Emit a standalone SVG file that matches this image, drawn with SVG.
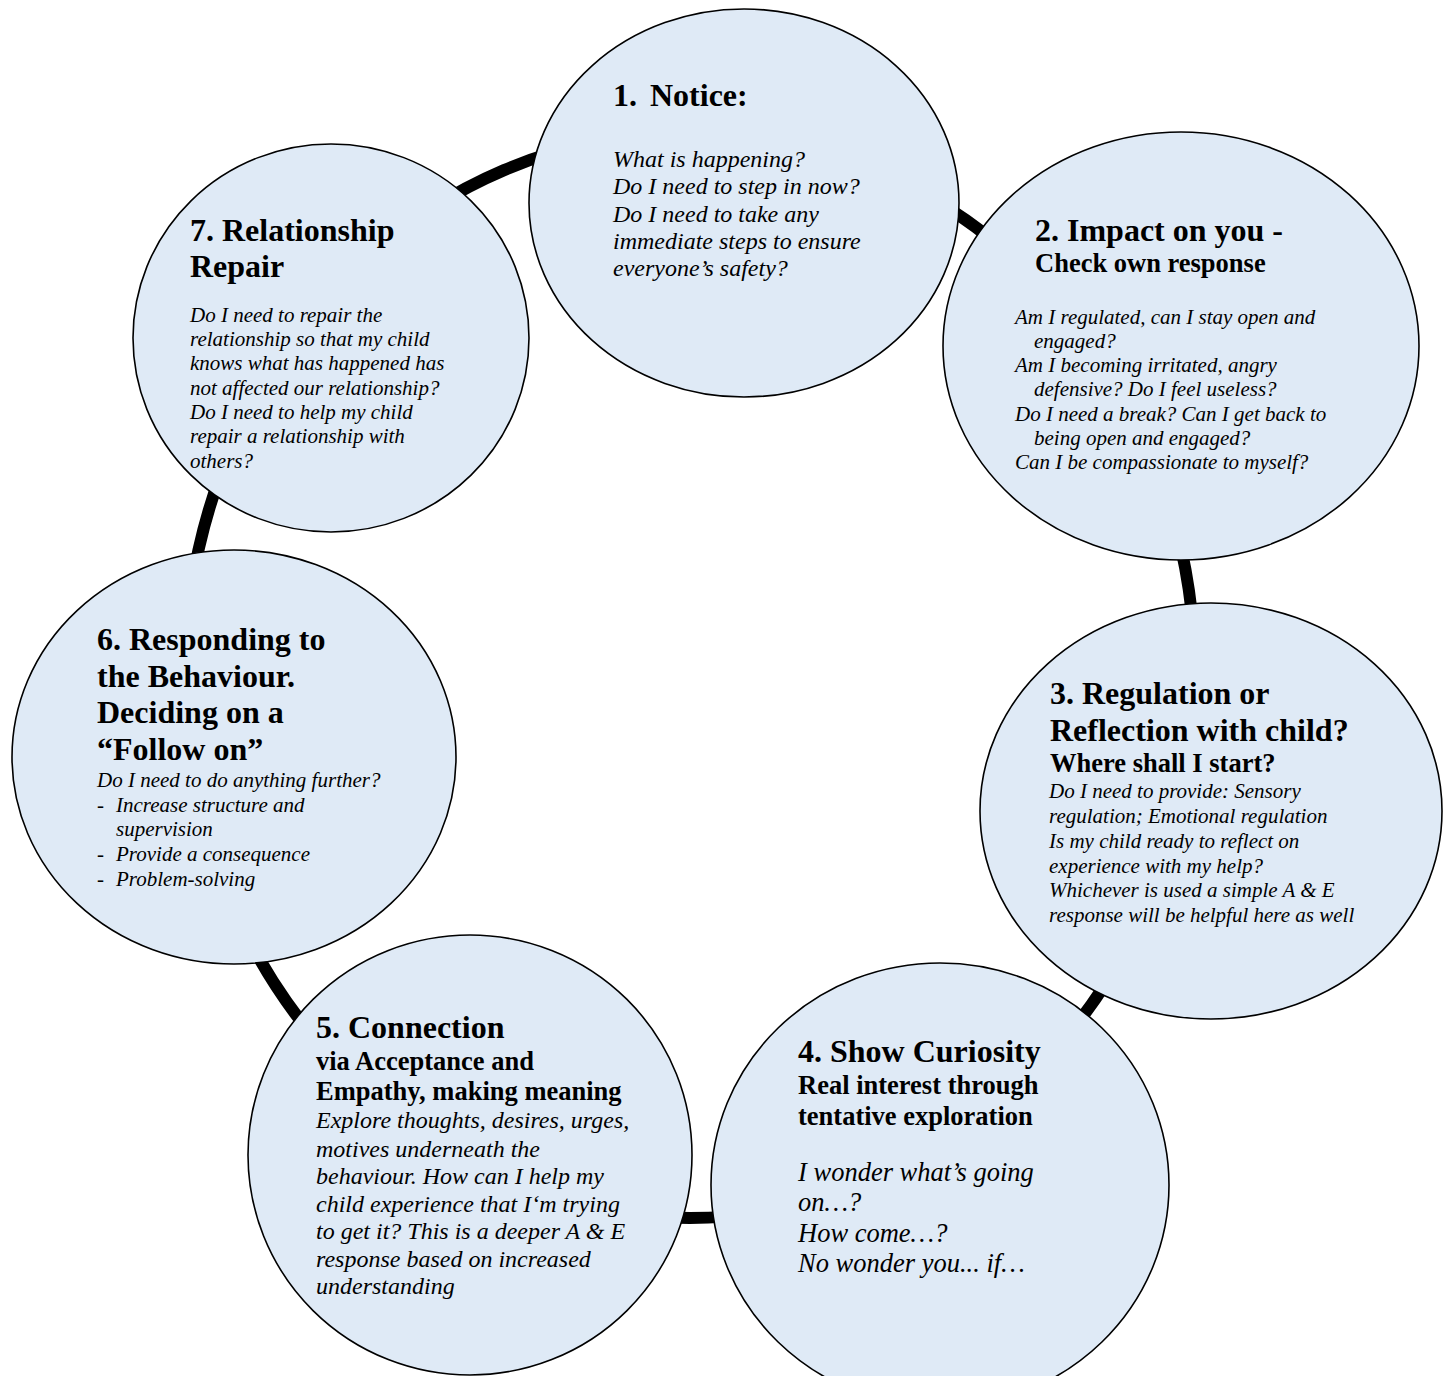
<svg xmlns="http://www.w3.org/2000/svg" width="1448" height="1376" viewBox="0 0 1448 1376">
<style>
.bg{fill:#ffffff}
.ring{fill:none;stroke:#000;stroke-width:12}
.n{fill:#dfeaf6;stroke:#000;stroke-width:1.6}
text{font-family:"Liberation Serif","Times New Roman",serif;fill:#000}
.h{font-weight:bold;font-size:32px}
.s{font-weight:bold;font-size:26.5px}
.b{font-style:italic;font-size:21px}
.b24{font-style:italic;font-size:24px}
.b26{font-style:italic;font-size:26.5px}
</style>
<rect class="bg" x="0" y="0" width="1448" height="1376"/>
<g id="connectors">
<ellipse class="ring" cx="690" cy="675" rx="505" ry="543"/>
</g>
<g id="node1">
<ellipse class="n" cx="744" cy="203" rx="215" ry="194"/>
<text class="h" y="106"><tspan x="613">1.</tspan><tspan x="650">Notice:</tspan></text>
<text class="b24"><tspan x="613" y="167">What is happening?</tspan><tspan x="613" y="194">Do I need to step in now?</tspan><tspan x="613" y="222">Do I need to take any</tspan><tspan x="613" y="249">immediate steps to ensure</tspan><tspan x="613" y="276">everyone’s safety?</tspan></text>
</g>
<g id="node2">
<ellipse class="n" cx="1181" cy="346" rx="238" ry="214"/>
<text class="h" x="1035" y="241">2. Impact on you -</text>
<text class="s" x="1035" y="272">Check own response</text>
<text class="b"><tspan x="1015" y="324">Am I regulated, can I stay open and</tspan><tspan x="1034" y="348">engaged?</tspan><tspan x="1015" y="372">Am I becoming irritated, angry</tspan><tspan x="1034" y="396">defensive? Do I feel useless?</tspan><tspan x="1015" y="421">Do I need a break? Can I get back to</tspan><tspan x="1034" y="445">being open and engaged?</tspan><tspan x="1015" y="469">Can I be compassionate to myself?</tspan></text>
</g>
<g id="node3">
<ellipse class="n" cx="1211" cy="811" rx="231" ry="208"/>
<text class="h"><tspan x="1050" y="704">3. Regulation or</tspan><tspan x="1050" y="741">Reflection with child?</tspan></text>
<text class="s" x="1050" y="772">Where shall I start?</text>
<text class="b"><tspan x="1049" y="798">Do I need to provide: Sensory</tspan><tspan x="1049" y="823">regulation; Emotional regulation</tspan><tspan x="1049" y="848">Is my child ready to reflect on</tspan><tspan x="1049" y="873">experience with my help?</tspan><tspan x="1049" y="897">Whichever is used a simple A &amp; E</tspan><tspan x="1049" y="922">response will be helpful here as well</tspan></text>
</g>
<g id="node4">
<ellipse class="n" cx="940" cy="1185" rx="229" ry="222"/>
<text class="h" x="798" y="1062">4. Show Curiosity</text>
<text class="s"><tspan x="798" y="1094">Real interest through</tspan><tspan x="798" y="1125">tentative exploration</tspan></text>
<text class="b26"><tspan x="798" y="1181">I wonder what’s going</tspan><tspan x="798" y="1211">on…?</tspan><tspan x="798" y="1242">How come…?</tspan><tspan x="798" y="1272">No wonder you... if…</tspan></text>
</g>
<g id="node5">
<ellipse class="n" cx="470" cy="1155" rx="222" ry="220"/>
<text class="h" x="316" y="1038">5. Connection</text>
<text class="s"><tspan x="316" y="1070">via Acceptance and</tspan><tspan x="316" y="1100">Empathy, making meaning</tspan></text>
<text class="b24"><tspan x="316" y="1128">Explore thoughts, desires, urges,</tspan><tspan x="316" y="1157">motives underneath the</tspan><tspan x="316" y="1184">behaviour. How can I help my</tspan><tspan x="316" y="1212">child experience that I‘m trying</tspan><tspan x="316" y="1239">to get it? This is a deeper A &amp; E</tspan><tspan x="316" y="1267">response based on increased</tspan><tspan x="316" y="1294">understanding</tspan></text>
</g>
<g id="node6">
<ellipse class="n" cx="234" cy="757" rx="222" ry="207"/>
<text class="h"><tspan x="97" y="650">6. Responding to</tspan><tspan x="97" y="687">the Behaviour.</tspan><tspan x="97" y="723">Deciding on a</tspan><tspan x="97" y="760">“Follow on”</tspan></text>
<text class="b"><tspan x="97" y="787">Do I need to do anything further?</tspan><tspan x="97" y="812">-</tspan><tspan x="116" y="812">Increase structure and</tspan><tspan x="116" y="836">supervision</tspan><tspan x="97" y="861">-</tspan><tspan x="116" y="861">Provide a consequence</tspan><tspan x="97" y="886">-</tspan><tspan x="116" y="886">Problem-solving</tspan></text>
</g>
<g id="node7">
<ellipse class="n" cx="331" cy="338" rx="198" ry="194"/>
<text class="h"><tspan x="190" y="241">7. Relationship</tspan><tspan x="190" y="277">Repair</tspan></text>
<text class="b"><tspan x="190" y="322">Do I need to repair the</tspan><tspan x="190" y="346">relationship so that my child</tspan><tspan x="190" y="370">knows what has happened has</tspan><tspan x="190" y="395">not affected our relationship?</tspan><tspan x="190" y="419">Do I need to help my child</tspan><tspan x="190" y="443">repair a relationship with</tspan><tspan x="190" y="468">others?</tspan></text>
</g>
</svg>
